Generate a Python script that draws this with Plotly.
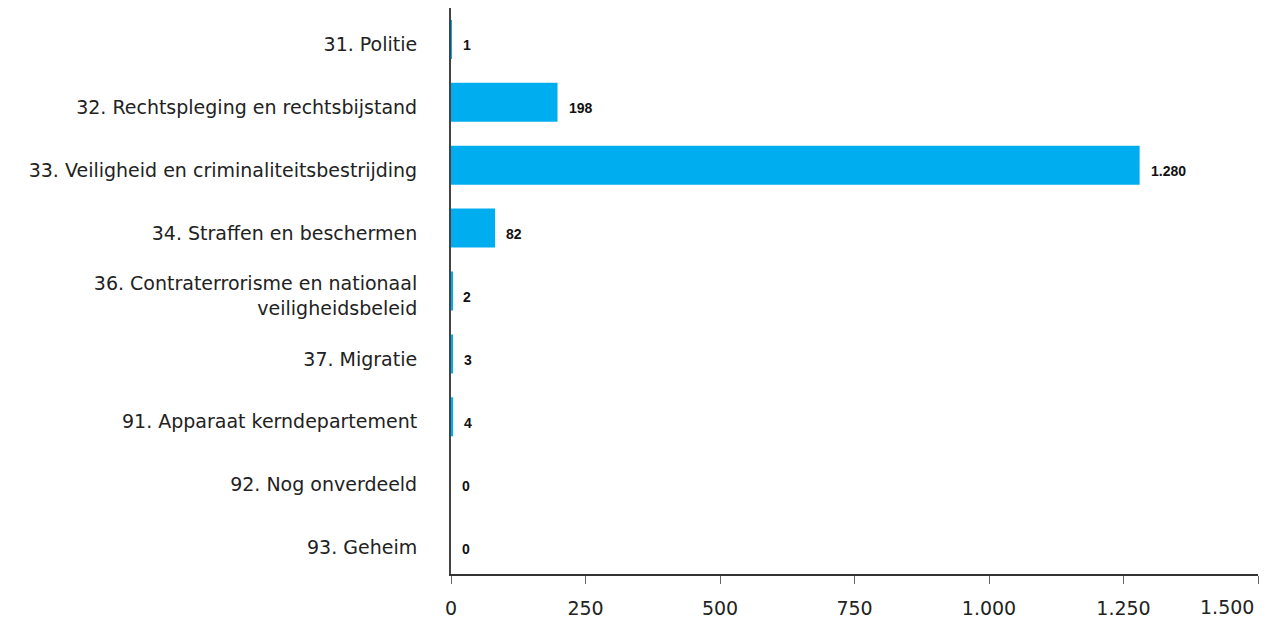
import plotly.graph_objects as go

categories = [
    "31. Politie",
    "32. Rechtspleging en rechtsbijstand",
    "33. Veiligheid en criminaliteitsbestrijding",
    "34. Straffen en beschermen",
    "36. Contraterrorisme en nationaal<br>veiligheidsbeleid",
    "37. Migratie",
    "91. Apparaat kerndepartement",
    "92. Nog onverdeeld",
    "93. Geheim",
]
values = [1, 198, 1280, 82, 2, 3, 4, 0, 0]
value_labels = ["1", "198", "1.280", "82", "2", "3", "4", "0", "0"]
tick_vals = [0, 250, 500, 750, 1000, 1250, 1500]
tick_text = ["0", "250", "500", "750", "1.000", "1.250", ""]
last_tick_label = "1.500"

LABEL_FONT = "DejaVu Sans, Arial, sans-serif"
VALUE_FONT = "Liberation Sans, Arial, sans-serif"

fig = go.Figure()
fig.add_trace(go.Bar(
    x=values, y=categories, orientation="h",
    marker=dict(color="#00AEEF", line=dict(width=0)),
    width=0.62, hoverinfo="skip",
))

for v, c, t in zip(values, categories, value_labels):
    fig.add_annotation(
        x=v, y=c, text=t, showarrow=False, xanchor="left",
        xshift=9, yshift=-6,
        font=dict(family=VALUE_FONT, size=14, color="#111111", weight="bold"),
    )

# last x tick label, right-aligned to its tick like the original
fig.add_annotation(
    x=tick_vals[-1], xref="x", y=0, yref="paper", text=last_tick_label,
    showarrow=False, xanchor="right", yanchor="middle", xshift=-2, yshift=-33,
    font=dict(family=LABEL_FONT, size=19, color="#222222"),
)

fig.update_layout(
    width=1263, height=611,
    margin=dict(l=443, r=13, t=0, b=45, autoexpand=False),
    paper_bgcolor="white", plot_bgcolor="white",
    separators=",.",
    showlegend=False,
    font=dict(family=LABEL_FONT, size=19, color="#222222"),
)
fig.update_xaxes(
    range=[0, 1500], tickvals=tick_vals, ticktext=tick_text,
    showgrid=False, zeroline=False,
    showline=True, linecolor="#333333", linewidth=1.5,
    ticks="outside", ticklen=8, tickcolor="#666666", tickwidth=1,
    ticklabelstandoff=8,
    tickfont=dict(family=LABEL_FONT, size=19, color="#222222"),
)
fig.update_yaxes(
    categoryorder="array", categoryarray=categories, autorange="reversed",
    showgrid=False, zeroline=False,
    showline=True, linecolor="#444444", linewidth=2,
    ticks="", ticklabelstandoff=28, ticklabelshift=-5,
    tickfont=dict(family=LABEL_FONT, size=19, color="#222222"),
)

fig.write_html("out.html")
